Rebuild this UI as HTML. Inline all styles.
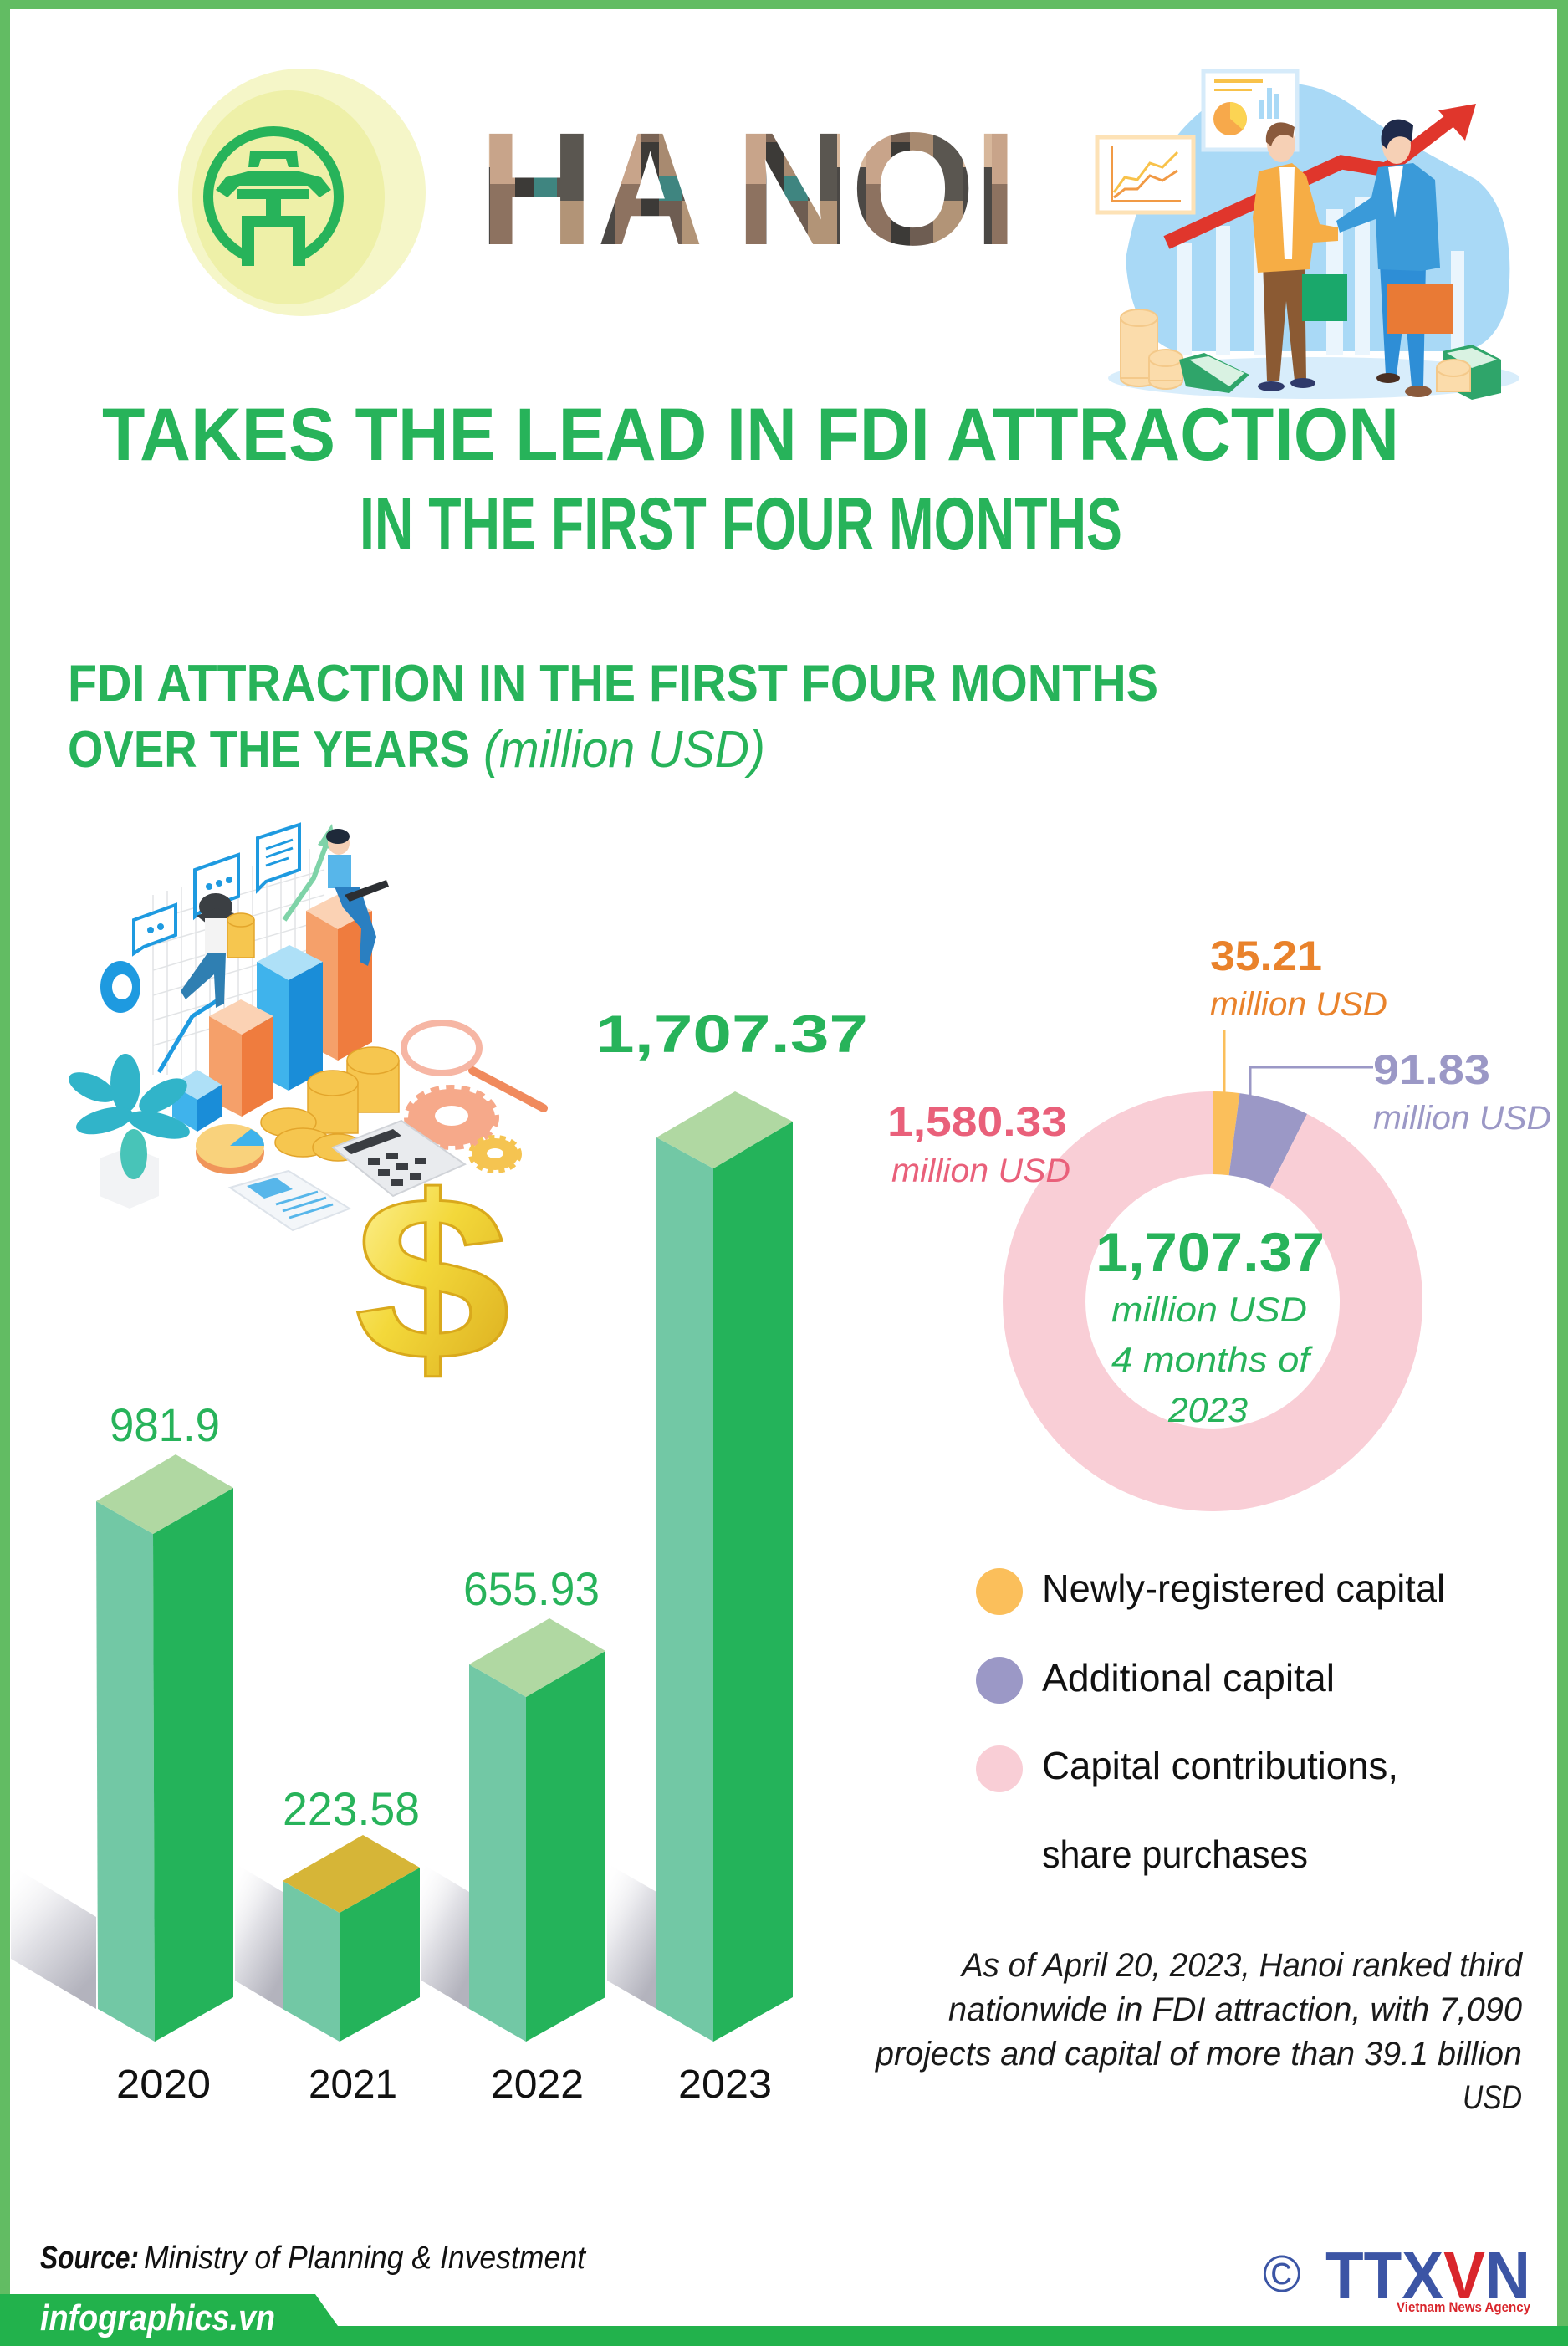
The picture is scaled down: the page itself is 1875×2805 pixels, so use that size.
<!DOCTYPE html>
<html><head><meta charset="utf-8">
<style>
html,body{margin:0;padding:0;background:#fff;}
svg{display:block;}
text{font-family:"Liberation Sans",sans-serif;}
</style></head><body>
<svg xmlns="http://www.w3.org/2000/svg" width="1875" height="2805" viewBox="0 0 1875 2805">
<defs>
  <pattern id="city" patternUnits="userSpaceOnUse" x="586" y="150" width="150" height="145">
    <rect width="150" height="145" fill="#7a6455"/>
    <rect x="0" y="0" width="30" height="70" fill="#c8a48a"/>
    <rect x="30" y="20" width="22" height="125" fill="#3c3a37"/>
    <rect x="52" y="0" width="28" height="60" fill="#a88a70"/>
    <rect x="52" y="60" width="28" height="30" fill="#3f8580"/>
    <rect x="80" y="10" width="35" height="80" fill="#5a5650"/>
    <rect x="115" y="0" width="35" height="50" fill="#d7b79b"/>
    <rect x="115" y="50" width="35" height="95" fill="#4b4845"/>
    <rect x="0" y="70" width="30" height="75" fill="#8d7260"/>
    <rect x="80" y="90" width="35" height="55" fill="#b29477"/>
    <rect x="52" y="90" width="28" height="55" fill="#6e5d52"/>
  </pattern>
  <linearGradient id="shd" x1="0" y1="0" x2="0.6" y2="1">
    <stop offset="0" stop-color="#ffffff" stop-opacity="0"/>
    <stop offset="0.5" stop-color="#e2e2e7"/>
    <stop offset="1" stop-color="#b3b3bd"/>
  </linearGradient>
  <linearGradient id="gold" x1="0" y1="0" x2="1" y2="1">
    <stop offset="0" stop-color="#fff6a8"/>
    <stop offset="0.45" stop-color="#f3d83a"/>
    <stop offset="1" stop-color="#d9a91c"/>
  </linearGradient>
</defs>

<rect width="1875" height="2805" fill="#fff"/>

<!-- borders -->
<rect x="0" y="0" width="1875" height="11" fill="#62bc63"/>
<rect x="0" y="0" width="12" height="2805" fill="#62bc63"/>
<rect x="1862" y="0" width="13" height="2805" fill="#62bc63"/>
<rect x="0" y="2781" width="1875" height="24" fill="#22b24c"/>
<polygon points="0,2743 377,2743 404,2781 0,2781" fill="#22b24c"/>

<!-- logo -->
<circle cx="361" cy="230" r="148" fill="#f5f6c8"/>
<ellipse cx="345" cy="236" rx="115" ry="128" fill="#eef0a8"/>
<circle cx="327" cy="235" r="78" fill="none" stroke="#27b35a" stroke-width="12"/>
<rect x="304" y="300" width="46" height="20" fill="#eef0a8"/>
<g fill="#27b35a">
  <polygon points="299,181 355,181 357,200 345,200 342,190 312,190 309,200 297,200"/>
  <polygon points="270,212 300,204 354,204 384,212 396,227 382,236 368,222 286,222 272,236 258,227"/>
  <rect x="284" y="226" width="86" height="12"/>
  <rect x="318" y="236" width="18" height="24"/>
  <rect x="289" y="258" width="76" height="13"/>
  <rect x="289" y="258" width="15" height="60"/>
  <rect x="350" y="258" width="15" height="60"/>
</g>

<!-- HANOI -->
<g font-weight="bold" font-size="192" fill="url(#city)">
  <text x="572" y="292">H</text>
  <text x="714" y="292" textLength="127" lengthAdjust="spacingAndGlyphs">A</text>
  <text x="879" y="292">N</text>
  <text x="1017" y="292">O</text>
  <text x="1164" y="292">I</text>
</g>

<!-- top right illustration -->
<g>
  <ellipse cx="1571" cy="452" rx="246" ry="25" fill="#d8edfb"/>
  <path d="M1346,310 C1360,230 1390,170 1440,130 C1500,95 1560,85 1620,128 C1660,160 1720,190 1764,214 C1800,240 1812,300 1802,364 C1790,410 1760,420 1746,420 L1407,420 C1370,410 1350,370 1346,310 Z" fill="#a9d9f6"/>
  <g fill="#eaf5fd">
    <rect x="1407" y="290" width="18" height="135"/>
    <rect x="1454" y="270" width="17" height="155"/>
    <rect x="1500" y="260" width="16" height="165"/>
    <rect x="1586" y="250" width="20" height="175"/>
    <rect x="1620" y="235" width="18" height="190"/>
    <rect x="1735" y="300" width="16" height="125"/>
  </g>
  <rect x="1312" y="164" width="115" height="90" fill="#fff" stroke="#fde2b6" stroke-width="5"/>
  <polyline points="1332,230 1345,212 1360,215 1375,195 1390,200 1408,182" fill="none" stroke="#f8c24a" stroke-width="3"/>
  <polyline points="1332,236 1345,226 1360,226 1375,210 1390,216 1408,204" fill="none" stroke="#f19a45" stroke-width="3"/>
  <polyline points="1330,175 1330,240 1412,240" fill="none" stroke="#f19a45" stroke-width="2"/>
  <rect x="1439" y="85" width="112" height="94" fill="#fff" stroke="#d6ebfa" stroke-width="5"/>
  <rect x="1452" y="95" width="58" height="4" fill="#f8c24a"/>
  <rect x="1452" y="106" width="45" height="3" fill="#f8c24a"/>
  <circle cx="1471" cy="142" r="20" fill="#f7a94b"/>
  <path d="M1471,142 L1471,122 A20,20 0 0 1 1486,155 Z" fill="#fcd453"/>
  <rect x="1506" y="120" width="6" height="22" fill="#a9d9f6"/>
  <rect x="1515" y="105" width="6" height="37" fill="#a9d9f6"/>
  <rect x="1524" y="112" width="6" height="30" fill="#a9d9f6"/>
  <polyline points="1395,290 1604,194 1657,203 1742,138" fill="none" stroke="#e0362c" stroke-width="17" stroke-linejoin="miter"/>
  <polygon points="1720,132 1765,124 1752,168" fill="#e0362c"/>
  <g fill="#fbdcab" stroke="#f4c98a" stroke-width="2">
    <ellipse cx="1362" cy="452" rx="22" ry="10"/>
    <rect x="1340" y="380" width="44" height="72"/>
    <ellipse cx="1362" cy="380" rx="22" ry="10"/>
    <ellipse cx="1394" cy="455" rx="20" ry="10"/>
    <rect x="1374" y="428" width="40" height="27"/>
    <ellipse cx="1394" cy="428" rx="20" ry="10"/>
  </g>
  <polygon points="1410,430 1440,422 1494,448 1470,470 1418,462" fill="#2fa56a"/>
  <polygon points="1422,430 1445,426 1488,446 1470,462" fill="#d9f2e2"/>
  <polygon points="1725,420 1760,412 1795,430 1795,470 1760,478 1725,460" fill="#2fa56a"/>
  <polygon points="1730,422 1760,416 1790,430 1760,440" fill="#d9f2e2"/>
  <g fill="#fbdcab" stroke="#f4c98a" stroke-width="2">
    <rect x="1718" y="440" width="40" height="28"/>
    <ellipse cx="1738" cy="440" rx="20" ry="10"/>
  </g>
  <polygon points="1510,313 1560,313 1562,455 1548,455 1538,360 1530,455 1515,455" fill="#8b5a33"/>
  <ellipse cx="1520" cy="462" rx="16" ry="6" fill="#2f3a6a"/>
  <ellipse cx="1558" cy="458" rx="15" ry="6" fill="#2f3a6a"/>
  <polygon points="1505,205 1545,195 1562,210 1578,268 1600,272 1600,288 1570,290 1566,322 1504,326 1498,260" fill="#f6ad45"/>
  <polygon points="1530,200 1548,200 1545,310 1536,310" fill="#fff"/>
  <ellipse cx="1532" cy="172" rx="17" ry="22" fill="#f6d0b5"/>
  <path d="M1514,170 C1512,148 1530,140 1548,152 L1546,165 C1536,158 1524,160 1520,175 Z" fill="#8a5a3c"/>
  <rect x="1557" y="328" width="54" height="56" fill="#1aa86b"/>
  <polygon points="1650,315 1705,315 1702,462 1688,462 1680,370 1670,448 1657,448" fill="#2e8ed6"/>
  <ellipse cx="1660" cy="452" rx="14" ry="6" fill="#4a2f22"/>
  <ellipse cx="1696" cy="468" rx="16" ry="7" fill="#8a5a3c"/>
  <polygon points="1648,200 1690,195 1716,215 1722,320 1700,324 1648,322 1645,262 1602,278 1598,264 1640,236" fill="#3a9ad9"/>
  <polygon points="1660,200 1678,198 1668,260" fill="#fff"/>
  <ellipse cx="1670" cy="174" rx="17" ry="22" fill="#f6d0b5"/>
  <path d="M1652,172 C1648,145 1672,134 1690,150 L1688,170 C1680,160 1662,160 1658,178 Z" fill="#1f2a4a"/>
  <rect x="1659" y="339" width="78" height="60" fill="#e97a35"/>
</g>

<!-- titles -->
<text x="122" y="550" font-size="89" font-weight="bold" fill="#27b35a" textLength="1551" lengthAdjust="spacingAndGlyphs">TAKES THE LEAD IN FDI ATTRACTION</text>
<text x="430" y="657" font-size="89" font-weight="bold" fill="#27b35a" textLength="912" lengthAdjust="spacingAndGlyphs">IN THE FIRST FOUR MONTHS</text>
<text x="81" y="838" font-size="62" font-weight="bold" fill="#27b35a" textLength="1304" lengthAdjust="spacingAndGlyphs">FDI ATTRACTION IN THE FIRST FOUR MONTHS</text>
<text x="81" y="917" font-size="62" font-weight="bold" fill="#27b35a" textLength="481" lengthAdjust="spacingAndGlyphs">OVER THE YEARS</text>
<text x="578" y="917" font-size="62" font-style="italic" fill="#27b35a" textLength="337" lengthAdjust="spacingAndGlyphs">(million USD)</text>

<!-- left illustration -->
<g>
  <g stroke="#e2e4e6" stroke-width="1.5">
    <line x1="183" y1="1070" x2="183" y2="1285"/><line x1="200" y1="1065" x2="200" y2="1285"/>
    <line x1="217" y1="1060" x2="217" y2="1285"/><line x1="234" y1="1055" x2="234" y2="1285"/>
    <line x1="251" y1="1050" x2="251" y2="1285"/><line x1="268" y1="1045" x2="268" y2="1285"/>
    <line x1="285" y1="1040" x2="285" y2="1285"/><line x1="302" y1="1035" x2="302" y2="1285"/>
    <line x1="319" y1="1030" x2="319" y2="1285"/><line x1="336" y1="1025" x2="336" y2="1285"/>
    <line x1="353" y1="1020" x2="353" y2="1285"/><line x1="370" y1="1015" x2="370" y2="1285"/>
    <line x1="183" y1="1100" x2="388" y2="1040"/><line x1="183" y1="1130" x2="388" y2="1070"/>
    <line x1="183" y1="1160" x2="388" y2="1100"/><line x1="183" y1="1190" x2="388" y2="1130"/>
    <line x1="183" y1="1220" x2="388" y2="1160"/><line x1="183" y1="1250" x2="388" y2="1190"/>
  </g>
  <g fill="#fff" stroke="#1e9ae0" stroke-width="4">
    <path d="M160,1100 L210,1082 L210,1118 L172,1132 L160,1140 Z"/>
    <path d="M233,1040 L285,1022 L285,1072 L245,1086 L233,1096 Z"/>
    <path d="M308,1002 L358,986 L358,1040 L318,1054 L308,1064 Z"/>
  </g>
  <g fill="#1e9ae0"><circle cx="180" cy="1112" r="4"/><circle cx="192" cy="1108" r="4"/><circle cx="250" cy="1060" r="4"/><circle cx="262" cy="1056" r="4"/><circle cx="274" cy="1052" r="4"/></g>
  <g stroke="#1e9ae0" stroke-width="3"><line x1="318" y1="1015" x2="350" y2="1004"/><line x1="318" y1="1025" x2="350" y2="1014"/><line x1="318" y1="1035" x2="345" y2="1026"/></g>
  <ellipse cx="144" cy="1180" rx="24" ry="31" fill="#1e9ae0"/>
  <ellipse cx="146" cy="1180" rx="12" ry="15" fill="#fff"/>
  <polyline points="190,1282 230,1215 262,1195" fill="none" stroke="#1e9ae0" stroke-width="5"/>
  <polyline points="340,1100 375,1050 392,1005" fill="none" stroke="#7fd3a8" stroke-width="6"/>
  <polygon points="380,1010 397,985 402,1018" fill="#7fd3a8"/>
  <polygon points="366,1089 405,1069 445,1089 404,1111" fill="#fbd2b4"/>
  <polygon points="366,1089 404,1111 404,1268 366,1248" fill="#f5a06a"/>
  <polygon points="404,1111 445,1089 445,1246 404,1268" fill="#ef7c3e"/>
  <polygon points="307,1150 346,1130 386,1150 345,1172" fill="#aee0f7"/>
  <polygon points="307,1150 345,1172 345,1304 307,1284" fill="#3fb3ec"/>
  <polygon points="345,1172 386,1150 386,1282 345,1304" fill="#1a8dd8"/>
  <polygon points="250,1215 288,1195 327,1215 289,1237" fill="#fbd2b4"/>
  <polygon points="250,1215 289,1237 289,1335 250,1315" fill="#f5a06a"/>
  <polygon points="289,1237 327,1215 327,1313 289,1335" fill="#ef7c3e"/>
  <polygon points="206,1297 236,1279 265,1297 236,1315" fill="#aee0f7"/>
  <polygon points="206,1297 236,1315 236,1353 206,1335" fill="#3fb3ec"/>
  <polygon points="236,1315 265,1297 265,1335 236,1353" fill="#1a8dd8"/>
  <ellipse cx="258" cy="1084" rx="20" ry="16" fill="#3b3f43"/>
  <polygon points="235,1095 258,1086 280,1092 255,1110" fill="#3b3f43"/>
  <rect x="245" y="1098" width="26" height="45" fill="#f3f3f3"/>
  <polygon points="248,1140 270,1140 268,1200 258,1205 256,1165 222,1195 216,1185" fill="#2f7fb2"/>
  <g fill="#f6c64f" stroke="#e3a52b" stroke-width="1.5"><rect x="272" y="1100" width="32" height="45"/><ellipse cx="288" cy="1100" rx="16" ry="8"/></g>
  <ellipse cx="405" cy="1008" rx="13" ry="14" fill="#f6d0b5"/>
  <ellipse cx="404" cy="1000" rx="14" ry="9" fill="#1f2a3a"/>
  <rect x="392" y="1022" width="28" height="40" fill="#57b6ea"/>
  <polygon points="400,1060 430,1060 450,1120 440,1155 430,1150 432,1110 410,1085" fill="#2a7fc1"/>
  <polygon points="412,1070 462,1052 465,1060 418,1078" fill="#2c2f33"/>
  <polygon points="119,1385 155,1371 190,1385 190,1430 155,1445 119,1430" fill="#f2f3f5"/>
  <g fill="#31b4c9">
    <ellipse cx="110" cy="1300" rx="30" ry="14" transform="rotate(25 110 1300)"/>
    <ellipse cx="150" cy="1295" rx="18" ry="35"/>
    <ellipse cx="195" cy="1310" rx="32" ry="15" transform="rotate(-30 195 1310)"/>
    <ellipse cx="125" cy="1340" rx="35" ry="14" transform="rotate(-15 125 1340)"/>
    <ellipse cx="190" cy="1345" rx="38" ry="14" transform="rotate(15 190 1345)"/>
    <ellipse cx="160" cy="1380" rx="16" ry="30" fill="#48c4b8"/>
  </g>
  <ellipse cx="275" cy="1378" rx="41" ry="26" fill="#f0955a"/>
  <ellipse cx="275" cy="1370" rx="41" ry="26" fill="#f9d27c"/>
  <path d="M275,1370 L316,1370 A41,26 0 0 0 300,1350 Z" fill="#3fb3ec"/>
  <g fill="#f6c64f" stroke="#e3a52b" stroke-width="1.5">
    <rect x="415" y="1268" width="62" height="62"/><ellipse cx="446" cy="1268" rx="31" ry="16"/>
    <rect x="368" y="1295" width="60" height="60"/><ellipse cx="398" cy="1295" rx="30" ry="15"/>
    <ellipse cx="345" cy="1342" rx="33" ry="17"/>
    <ellipse cx="362" cy="1366" rx="33" ry="17"/>
    <ellipse cx="404" cy="1372" rx="30" ry="16"/>
  </g>
  <line x1="565" y1="1280" x2="650" y2="1325" stroke="#f08a5d" stroke-width="10" stroke-linecap="round"/>
  <ellipse cx="528" cy="1253" rx="45" ry="30" fill="#fff" stroke="#f6b6a4" stroke-width="8"/>
  <ellipse cx="540" cy="1336" rx="52" ry="34" fill="#f6a98a" stroke="#f6a98a" stroke-width="10" stroke-dasharray="10 8"/>
  <ellipse cx="540" cy="1334" rx="20" ry="12" fill="#fff"/>
  <ellipse cx="592" cy="1380" rx="28" ry="19" fill="#f5c451" stroke="#f5c451" stroke-width="8" stroke-dasharray="7 6"/>
  <ellipse cx="592" cy="1379" rx="10" ry="6" fill="#fff"/>
  <polygon points="398,1372 480,1340 556,1392 470,1430" fill="#e9ebee" stroke="#d0d3d8" stroke-width="2"/>
  <polygon points="410,1372 470,1350 480,1358 420,1380" fill="#3a3d42"/>
  <g fill="#3a3d42"><rect x="440" y="1385" width="14" height="8"/><rect x="462" y="1378" width="14" height="8"/><rect x="452" y="1398" width="14" height="8"/><rect x="474" y="1391" width="14" height="8"/><rect x="496" y="1384" width="14" height="8"/><rect x="468" y="1410" width="14" height="8"/><rect x="490" y="1403" width="14" height="8"/></g>
  <polygon points="275,1420 345,1400 418,1445 350,1471" fill="#f3f6f9" stroke="#dde3ea" stroke-width="2"/>
  <polygon points="295,1418 330,1408 350,1422 316,1433" fill="#57b6ea"/>
  <g stroke="#57b6ea" stroke-width="3"><line x1="330" y1="1440" x2="380" y2="1425"/><line x1="338" y1="1448" x2="390" y2="1432"/><line x1="346" y1="1456" x2="398" y2="1440"/></g>
  <text x="517" y="1625" font-size="280" font-weight="bold" text-anchor="middle" fill="url(#gold)" stroke="#d9a91c" stroke-width="3" transform="translate(517 0) scale(1.2 1) translate(-517 0)">$</text>
</g>

<!-- bar chart shadows -->
<polygon points="13,2230 115,2292 115,2402 13,2342" fill="url(#shd)"/>
<polygon points="281,2228 338,2262 338,2402 281,2368" fill="url(#shd)"/>
<polygon points="504,2228 561,2262 561,2402 504,2368" fill="url(#shd)"/>
<polygon points="726,2228 785,2262 785,2402 726,2368" fill="url(#shd)"/>

<!-- bars -->
<g>
  <polygon points="115,1795 183,1834 185,2441 117,2402" fill="#72c8a5"/>
  <polygon points="183,1834 279,1779 279,2388 185,2441" fill="#24b35a"/>
  <polygon points="210,1739 279,1779 183,1834 115,1795" fill="#b0d8a2"/>

  <polygon points="338,2249 406,2287 406,2441 338,2402" fill="#72c8a5"/>
  <polygon points="406,2287 502,2233 502,2388 406,2441" fill="#24b35a"/>
  <polygon points="434,2194 502,2233 406,2287 338,2249" fill="#d6b537"/>

  <polygon points="561,1990 629,2029 629,2441 561,2402" fill="#72c8a5"/>
  <polygon points="629,2029 724,1974 724,2388 629,2441" fill="#24b35a"/>
  <polygon points="657,1935 724,1974 629,2029 561,1990" fill="#b0d8a2"/>

  <polygon points="785,1360 853,1397 853,2441 785,2402" fill="#72c8a5"/>
  <polygon points="853,1397 948,1341 948,2388 853,2441" fill="#24b35a"/>
  <polygon points="879,1305 948,1341 853,1397 785,1360" fill="#b0d8a2"/>
</g>

<!-- bar values -->
<g fill="#27b35a" font-size="56">
  <text x="131" y="1723" textLength="132" lengthAdjust="spacingAndGlyphs">981.9</text>
  <text x="338" y="2182" textLength="164" lengthAdjust="spacingAndGlyphs">223.58</text>
  <text x="554" y="1919" textLength="163" lengthAdjust="spacingAndGlyphs">655.93</text>
</g>
<text x="712" y="1258" font-size="63" font-weight="bold" fill="#27b35a" textLength="326" lengthAdjust="spacingAndGlyphs">1,707.37</text>

<!-- years -->
<g fill="#111" font-size="48">
  <text x="139" y="2508" textLength="113" lengthAdjust="spacingAndGlyphs">2020</text>
  <text x="369" y="2508" textLength="106" lengthAdjust="spacingAndGlyphs">2021</text>
  <text x="587" y="2508" textLength="111" lengthAdjust="spacingAndGlyphs">2022</text>
  <text x="811" y="2508" textLength="112" lengthAdjust="spacingAndGlyphs">2023</text>
</g>

<!-- donut -->
<path d="M1450,1305 A251,251 0 0 1 1482.4,1307.1 L1469.6,1405.3 A152,152 0 0 0 1450,1404 Z" fill="#fbbf5b"/>
<path d="M1482.4,1307.1 A251,251 0 0 1 1563.1,1331.9 L1518.5,1420.3 A152,152 0 0 0 1469.6,1405.3 Z" fill="#9b98c6"/>
<path d="M1563.1,1331.9 A251,251 0 1 1 1450,1305 L1450,1404 A152,152 0 1 0 1518.5,1420.3 Z" fill="#f9ced6"/>

<line x1="1464" y1="1231" x2="1464" y2="1306" stroke="#fbbf5b" stroke-width="3"/>
<polyline points="1495,1312 1495,1276 1642,1276" fill="none" stroke="#9b98c6" stroke-width="3"/>

<text x="1447" y="1160" font-size="50" font-weight="bold" fill="#e9822b" textLength="134" lengthAdjust="spacingAndGlyphs">35.21</text>
<text x="1447" y="1214" font-size="40" font-style="italic" fill="#e9822b" textLength="212" lengthAdjust="spacingAndGlyphs">million USD</text>
<text x="1642" y="1296" font-size="50" font-weight="bold" fill="#9b98c6" textLength="140" lengthAdjust="spacingAndGlyphs">91.83</text>
<text x="1642" y="1350" font-size="40" font-style="italic" fill="#9b98c6" textLength="213" lengthAdjust="spacingAndGlyphs">million USD</text>
<text x="1061" y="1358" font-size="50" font-weight="bold" fill="#e9607a" textLength="215" lengthAdjust="spacingAndGlyphs">1,580.33</text>
<text x="1066" y="1413" font-size="40" font-style="italic" fill="#e9607a" textLength="214" lengthAdjust="spacingAndGlyphs">million USD</text>

<text x="1310" y="1520" font-size="66" font-weight="bold" fill="#27b35a" textLength="274" lengthAdjust="spacingAndGlyphs">1,707.37</text>
<text x="1329" y="1580" font-size="42" font-style="italic" fill="#27b35a" textLength="234" lengthAdjust="spacingAndGlyphs">million USD</text>
<text x="1329" y="1640" font-size="42" font-style="italic" fill="#27b35a" textLength="237" lengthAdjust="spacingAndGlyphs">4 months of</text>
<text x="1397" y="1700" font-size="42" font-style="italic" fill="#27b35a" textLength="95" lengthAdjust="spacingAndGlyphs">2023</text>

<!-- legend -->
<circle cx="1195" cy="1903" r="28" fill="#fbbf5b"/>
<circle cx="1195" cy="2009" r="28" fill="#9b98c6"/>
<circle cx="1195" cy="2115" r="28" fill="#f9ced6"/>
<g fill="#111" font-size="46">
  <text x="1246" y="1915" textLength="482" lengthAdjust="spacingAndGlyphs">Newly-registered capital</text>
  <text x="1246" y="2022" textLength="350" lengthAdjust="spacingAndGlyphs">Additional capital</text>
  <text x="1246" y="2127" textLength="426" lengthAdjust="spacingAndGlyphs">Capital contributions,</text>
  <text x="1246" y="2233" textLength="318" lengthAdjust="spacingAndGlyphs">share purchases</text>
</g>

<!-- note -->
<g fill="#1a1a1a" font-size="40" font-style="italic">
  <text x="1150" y="2363" textLength="670" lengthAdjust="spacingAndGlyphs">As of April 20, 2023, Hanoi ranked third</text>
  <text x="1134" y="2416" textLength="686" lengthAdjust="spacingAndGlyphs">nationwide in FDI attraction, with 7,090</text>
  <text x="1047" y="2469" textLength="773" lengthAdjust="spacingAndGlyphs">projects and capital of more than 39.1 billion</text>
  <text x="1749" y="2521" textLength="71" lengthAdjust="spacingAndGlyphs">USD</text>
</g>

<!-- footer -->
<text x="48" y="2712" font-size="38" font-weight="bold" font-style="italic" fill="#111" textLength="118" lengthAdjust="spacingAndGlyphs">Source:</text>
<text x="172" y="2712" font-size="38" font-style="italic" fill="#111" textLength="528" lengthAdjust="spacingAndGlyphs">Ministry of Planning &amp; Investment</text>
<text x="48" y="2786" font-size="44" font-weight="bold" font-style="italic" fill="#fff" textLength="281" lengthAdjust="spacingAndGlyphs">infographics.vn</text>

<text x="1510" y="2740" font-size="62" fill="#3b55a5">©</text>
<text x="1585" y="2748" font-size="80" font-weight="bold" fill="#3c55a5" textLength="245" lengthAdjust="spacingAndGlyphs">TTX<tspan fill="#d9262c">V</tspan>N</text>
<text x="1670" y="2764" font-size="17" font-weight="bold" fill="#d9262c" textLength="160" lengthAdjust="spacingAndGlyphs">Vietnam News Agency</text>
</svg>
</body></html>
